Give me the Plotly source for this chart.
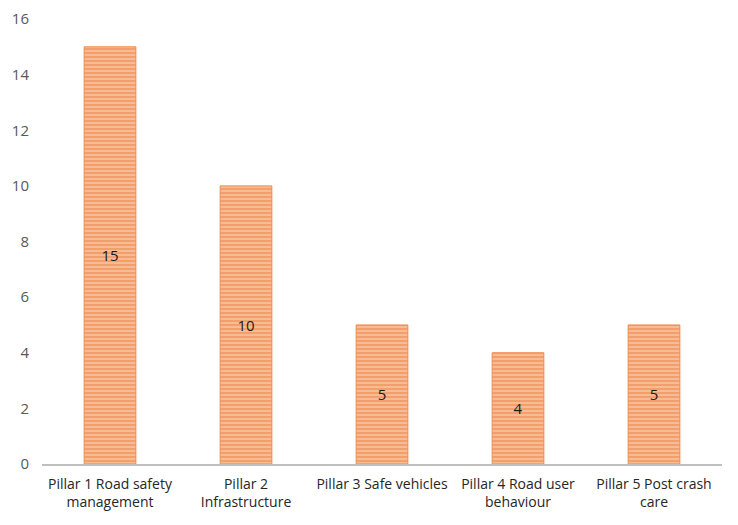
import plotly.graph_objects as go

categories = ["Pillar 1 Road safety<br>management", "Pillar 2<br>Infrastructure",
              "Pillar 3 Safe vehicles", "Pillar 4 Road user<br>behaviour", "Pillar 5 Post crash<br>care"]
values = [15, 10, 5, 4, 5]
y_ticks = [0, 2, 4, 6, 8, 10, 12, 14, 16]

fig = go.Figure(go.Bar(
    x=categories, y=values,
    text=[str(v) for v in values],
    textposition="inside", insidetextanchor="middle",
    textfont=dict(color="#1a1a1a", size=15, family="Open Sans"),
    marker=dict(color="#F5A874",
                line=dict(color="#F08A4A", width=1),
                pattern=dict(shape="-", fgcolor="#EF8240", bgcolor="#F7BC93", size=4, solidity=0.5)),
))
fig.update_layout(
    width=722, height=509,
    margin=dict(l=34, r=8, t=11, b=53),
    plot_bgcolor="white", paper_bgcolor="white",
    bargap=0.62, showlegend=False,
    font=dict(family="Open Sans", color="#404040", size=14),
    yaxis=dict(range=[0, 16], tickvals=y_ticks, showgrid=False, zeroline=False, automargin=False,
               tickfont=dict(size=15, color="#595959"), ticks="", showline=False, ticklabelstandoff=12),
    xaxis=dict(showline=True, linecolor="#BFBFBF", linewidth=2, ticks="", automargin=False,
               tickfont=dict(size=14, color="#262626"), ticklabelstandoff=6),
)
fig.write_html("out.html")
